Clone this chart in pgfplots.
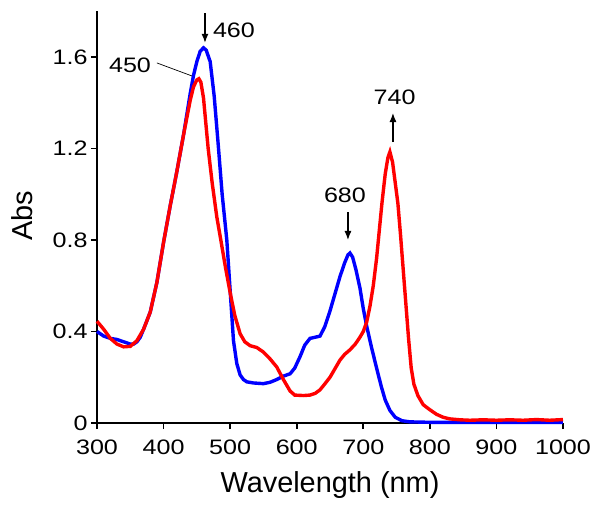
\documentclass[border=0pt]{standalone}
\usepackage{graphicx}
\usepackage{pgfplots}
\pgfplotsset{compat=1.18}
\usepackage{fontspec}
\setmainfont{Liberation Sans}
\usetikzlibrary{arrows.meta}
\newcommand{\wide}[1]{\scalebox{1.2}[1.0]{#1}}

\pgfplotstableread{
x y
300 0.400
305 0.390
310 0.380
320 0.370
330 0.365
340 0.355
350 0.345
355 0.345
360 0.355
365 0.375
370 0.410
380 0.485
390 0.615
400 0.790
410 0.950
420 1.100
430 1.260
440 1.440
445 1.520
450 1.580
455 1.625
460 1.640
464 1.630
470 1.580
476 1.430
482 1.220
488 1.000
495 0.800
500 0.580
505 0.360
510 0.260
515 0.210
520 0.190
525 0.180
535 0.175
550 0.172
560 0.178
570 0.190
580 0.205
590 0.215
597 0.240
605 0.290
612 0.340
620 0.370
628 0.375
635 0.380
642 0.420
650 0.490
658 0.570
665 0.640
672 0.700
677 0.735
680 0.743
684 0.725
689 0.670
695 0.590
700 0.500
705 0.425
712 0.335
720 0.240
727 0.160
733 0.100
740 0.055
748 0.025
758 0.010
770 0.005
800 0.003
850 0.003
900 0.003
950 0.003
1000 0.003
}\bluedata

\pgfplotstableread{
x y
300 0.445
310 0.410
320 0.370
330 0.345
340 0.333
350 0.335
360 0.360
370 0.410
380 0.485
390 0.615
400 0.790
410 0.950
420 1.100
430 1.260
440 1.410
445 1.470
450 1.500
453 1.505
456 1.490
460 1.420
467 1.200
473 1.050
480 0.900
486 0.800
493 0.680
500 0.570
507 0.470
515 0.390
522 0.355
530 0.338
540 0.330
550 0.310
560 0.280
570 0.245
580 0.190
590 0.140
597 0.122
610 0.120
620 0.122
628 0.130
635 0.145
642 0.170
650 0.200
658 0.240
665 0.275
672 0.300
680 0.320
688 0.345
695 0.375
700 0.400
705 0.440
710 0.510
715 0.600
720 0.720
725 0.870
728 0.960
733 1.090
737 1.160
740 1.185
744 1.140
748 1.050
752 0.960
756 0.820
760 0.670
764 0.520
768 0.370
772 0.240
776 0.170
782 0.120
790 0.080
800 0.058
810 0.038
820 0.025
830 0.018
845 0.014
860 0.012
880 0.014
900 0.012
920 0.014
940 0.012
960 0.015
980 0.012
1000 0.015
}\reddata

\begin{document}
\begin{tikzpicture}
\useasboundingbox (0,0) rectangle (602bp,512bp);
\begin{axis}[
  at={(97bp,89bp)}, anchor=south west,
  scale only axis, width=466bp, height=411.75bp,
  xmin=300, xmax=1000, ymin=0, ymax=1.8,
  clip=false,
  axis x line*=bottom, axis y line*=left,
  axis line style={line width=1.8bp, black},
  xtick={300,400,...,1000}, ytick={0,0.4,0.8,1.2,1.6},
  xticklabels={\wide{300},\wide{400},\wide{500},\wide{600},\wide{700},\wide{800},\wide{900},\wide{1000}},
  yticklabels={\wide{0},\wide{0.4},\wide{0.8},\wide{1.2},\wide{1.6}},
  tick align=outside, major tick length=6bp,
  every tick/.style={black, line width=1.8bp},
  minor tick num=0,
  tick label style={font=\fontsize{21}{25}\selectfont},
  xticklabel style={yshift=-7bp},
  xlabel={Wavelength (nm)}, ylabel={Abs},
  label style={font=\fontsize{29}{34}\selectfont},
  xlabel style={at={(axis description cs:0.5,-0.170)}, anchor=base},
  ylabel style={at={(axis description cs:-0.160,0.503)}, anchor=center},
]
\addplot[blue, line width=3.4bp] table[x=x,y=y] {\bluedata};
\addplot[red, line width=3.4bp] table[x=x,y=y] {\reddata};

\draw[-{Latex[length=9bp,width=7bp]}, line width=1.2bp] (axis cs:462.2,1.792) -- (axis cs:462.2,1.662);
\node[anchor=west, inner sep=0, font=\fontsize{21}{25}\selectfont] at (axis cs:474,1.718) {\wide{460}};

\node[inner sep=0, font=\fontsize{21}{25}\selectfont] at (axis cs:349.6,1.565) {\wide{450}};
\draw[line width=0.7bp] (axis cs:390,1.574) -- (axis cs:442.7,1.517);

\node[inner sep=0, font=\fontsize{21}{25}\selectfont] at (axis cs:672.5,0.997) {\wide{680}};
\draw[-{Latex[length=9bp,width=7bp]}, line width=1.2bp] (axis cs:677,0.922) -- (axis cs:677,0.800);

\node[inner sep=0, font=\fontsize{21}{25}\selectfont] at (axis cs:747,1.425) {\wide{740}};
\draw[-{Latex[length=9bp,width=7bp]}, line width=1.2bp] (axis cs:744.6,1.228) -- (axis cs:744.6,1.355);
\end{axis}
\end{tikzpicture}
\end{document}
